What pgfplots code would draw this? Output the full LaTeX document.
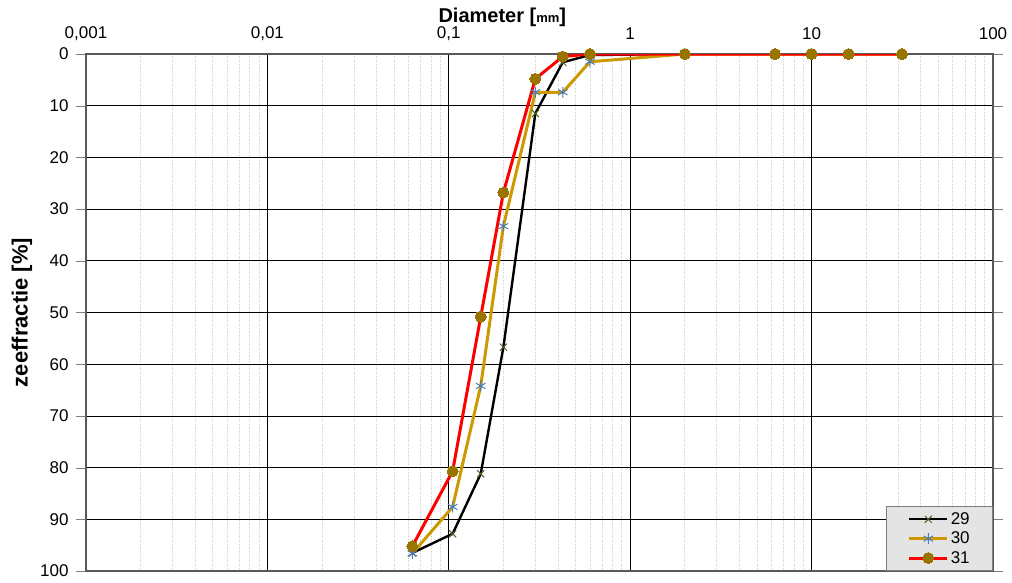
\documentclass[border=0pt]{standalone}
\usepackage{fontspec}
\setmainfont{Liberation Sans}
\usepackage{pgfplots}
\usepackage{pgfplotstable}
\pgfplotsset{compat=1.18}
\definecolor{cgold}{RGB}{204,153,0}
\definecolor{cbrown}{RGB}{153,116,0}
\definecolor{cgreen}{RGB}{79,98,40}
\definecolor{cblue}{RGB}{74,126,187}
\definecolor{legbg}{RGB}{228,228,228}

\pgfplotstableread{
d     s29   s30   s31
0.063 96.5  96.6  95.2
0.105 92.8  87.6  80.7
0.15  81.2  64.2  50.8
0.2   56.7  33.3  26.8
0.3   11.5  7.4   4.8
0.425 1.6   7.4   0.5
0.6   0.2   1.5   0
2     0     0     0
6.3   0     0     0
10    0     0     0
16    0     0     0
31.5  0     0     0
}\datatable

\begin{document}
\begin{tikzpicture}[font=\fontsize{17}{20}\selectfont]
\begin{axis}[
  name=ax, at={(0,0)}, anchor=south west,
  scale only axis, width=907pt, height=517pt,
  xmode=log, xmin=0.001, xmax=100,
  ymin=0, ymax=100, y dir=reverse,
  /pgf/number format/assume math mode=true,
  xtick={0.001,0.01,0.1,1,10,100},
  xticklabels={{0,001},{0,01},{0,1},1,10,100},
  xticklabel pos=upper,
  xticklabel style={anchor=center, yshift=10pt},
  xtick style={draw=none},
  ytick={0,10,...,100},
  tick align=outside,
  major tick length=10pt,
  yticklabel style={anchor=east, xshift=-4pt},
  xmajorgrids, ymajorgrids, xminorgrids,
  major grid style={black, line width=0.8pt},
  minor grid style={gray!40, dotted, line width=0.8pt},
  axis line style={draw=gray!70!black, line width=1.3pt},
  ylabel={\bfseries\fontsize{22}{26}\selectfont zeeffractie [\%]},
  every axis y label/.style={at={(rel axis cs:0,0.5)}, xshift=-64pt, rotate=90, anchor=center},
  title={\bfseries\fontsize{20}{24}\selectfont Diameter [{\fontsize{13}{15}\selectfont mm}]},
  title style={at={(0.459,1)}, anchor=center, yshift=31pt},
  legend style={at={(1,0)}, anchor=south east, fill=legbg, draw=gray, line width=0.6pt,
    inner xsep=21pt, inner ysep=4pt, row sep=2pt, font=\fontsize{17}{20}\selectfont},
  legend cell align=left,
  legend image code/.code={\draw[mark repeat=2,mark phase=2,#1] plot coordinates {(0pt,0pt) (19pt,0pt) (38pt,0pt)};},
]
\addplot[black, line width=2.4pt, mark=x, mark size=5pt, mark options={draw=cgreen, line width=1pt}]
  table[x=d, y=s29] {\datatable};
\addlegendentry{29}
\addplot[cgold, line width=3pt, mark=asterisk, mark size=5.5pt, mark options={draw=cblue, line width=1pt}]
  table[x=d, y=s30] {\datatable};
\addlegendentry{30}
\addplot[red, line width=3pt, mark=*, mark size=5.5pt, mark options={draw=cbrown, fill=cbrown, line width=0pt}]
  table[x=d, y=s31] {\datatable};
\addlegendentry{31}
\end{axis}
\pgfresetboundingbox
\useasboundingbox (-86pt,-11pt) rectangle (926pt,571pt);
\end{tikzpicture}
\end{document}
